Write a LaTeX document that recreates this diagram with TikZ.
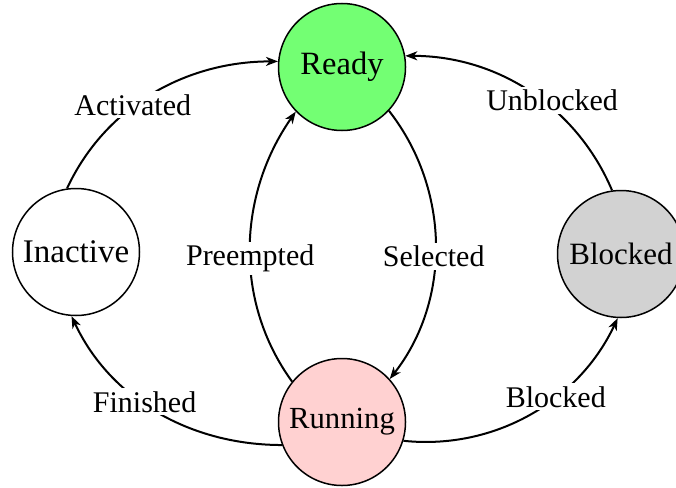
\documentclass[tikz,border=0pt]{standalone}
\usepackage{fontspec}
\setmainfont{Liberation Serif}
\usetikzlibrary{arrows.meta}
\tikzset{
  state/.style={circle, draw=black, line width=1.5pt, minimum size=127pt, inner sep=0pt},
  edge/.style={line width=2pt, -{Stealth[length=12pt,width=9pt,inset=3.5pt]}},
  lbl/.style={fill=white, inner sep=3pt, font=\fontsize{30}{34}\selectfont}
}
\begin{document}
\begin{tikzpicture}[x=1pt,y=1pt]
\useasboundingbox (0,0) rectangle (676,-487);
\clip (0,0) rectangle (676,-487);
\node[state, fill=green!55!white, font=\fontsize{32.5}{36}\selectfont] (ready) at (342,-67) {Ready};
\node[state, fill=white, font=\fontsize{33}{36}\selectfont] (inactive) at (76,-252) {Inactive};
\node[state, fill=gray!35, font=\fontsize{31}{36}\selectfont] (blocked) at (621,-254) {Blocked};
\node[state, fill=red!18, font=\fontsize{30.7}{36}\selectfont] (running) at (342,-422) {Running};

\draw[edge] (inactive.98) to[out=65,in=180,looseness=0.95] node[lbl,pos=0.42,xshift=-3pt] {Activated} (ready.175);
\draw[edge] (blocked.98) to[out=113,in=0,looseness=0.95] node[lbl,pos=0.45,xshift=12pt,yshift=-1.5pt] {Unblocked} (ready.10);
\draw[edge] (running.201) to[out=180,in=295,looseness=0.95] node[lbl,pos=0.57,xshift=2.5pt] {Finished} (inactive.266);
\draw[edge] (running.343) to[out=-6,in=245,looseness=0.95] node[lbl,pos=0.61,xshift=2pt,yshift=1.5pt] {Blocked} (blocked.267);
\draw[edge] (ready.-43) to[out=-52,in=52,looseness=0.95] node[lbl,pos=0.54,xshift=-1.5pt] {Selected} (running.42);
\draw[edge] (running.141) to[out=126,in=235,looseness=0.95] node[lbl,pos=0.46] {Preempted} (ready.224);
\end{tikzpicture}
\end{document}
